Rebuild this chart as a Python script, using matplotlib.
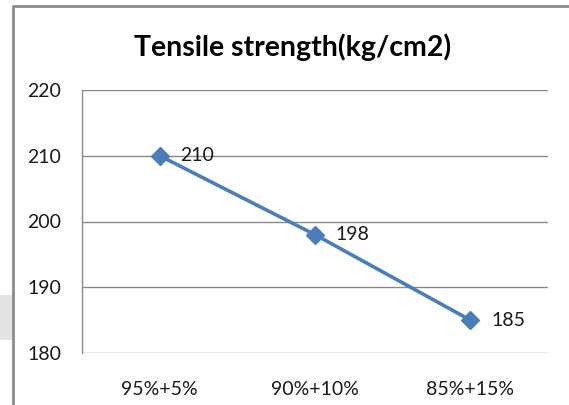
import matplotlib
matplotlib.use("Agg")
import matplotlib.pyplot as plt
from matplotlib.lines import Line2D
from matplotlib.patches import Rectangle

# Blend ratios and measured tensile strength
categories = ["95%+5%", "90%+10%", "85%+15%"]
strength = [210, 198, 185]
y_ticks = [180, 190, 200, 210, 220]
title = "Tensile strength(kg/cm2)"

W, H = 569, 405
fig = plt.figure(figsize=(W / 100, H / 100), dpi=100, facecolor="white", edgecolor="white",
                 linewidth=0)

def px(x0, y0, x1, y1):
    """Pixel box (top-left origin) -> figure fraction rect."""
    return [x0 / W, 1 - y1 / H, (x1 - x0) / W, (y1 - y0) / H]

# faint page marks in the left margin
fig.patches.append(Rectangle((0, 1 - 340 / H), 12 / W, 45 / H, transform=fig.transFigure,
                             facecolor="#e4e4e4", edgecolor="none", zorder=0))

# chart frame (left and top edges) as one polyline
frame = Line2D([13 / W, 13 / W, 1.01], [-0.01, 1 - 6 / H, 1 - 6 / H],
               transform=fig.transFigure, color="#8c8c8c", lw=2)
fig.lines.append(frame)

ax = fig.add_axes(px(82, 90, 548, 353))
x = list(range(len(categories)))
ax.plot(x, strength, color="#4a7ebb", lw=2.6, marker="D", markersize=9,
        markerfacecolor="#4a7ebb", markeredgecolor="#4a7ebb", zorder=3)
for xi, v in zip(x, strength):
    ax.annotate(str(v), (xi, v), xytext=(15, 0), textcoords="offset points",
                ha="left", va="center", fontsize=14, family="Lato", color="#1a1a1a")

ax.set_xlim(-0.5, len(categories) - 0.5)
ax.set_ylim(y_ticks[0], y_ticks[-1])
ax.set_yticks(y_ticks)
ax.set_xticks(x)
ax.set_xticklabels(categories)
ax.yaxis.grid(True, color="#8a8a8a", lw=1)
ax.set_axisbelow(True)
for side in ("top", "right", "bottom"):
    ax.spines[side].set_visible(False)
ax.spines["left"].set_color("#8a8a8a")
ax.spines["left"].set_linewidth(1)
ax.tick_params(length=0, labelsize=14, colors="#1a1a1a")
ax.tick_params(axis="y", pad=15)
ax.tick_params(axis="x", pad=20)
for lab in ax.get_xticklabels() + ax.get_yticklabels():
    lab.set_family("Lato")

fig.text(293 / W, 1 - 47 / H, title, ha="center", va="center",
         fontsize=20.5, fontweight="bold", family="Lato", color="black")

fig.savefig("out.png", dpi=100, facecolor="white", edgecolor="none")
